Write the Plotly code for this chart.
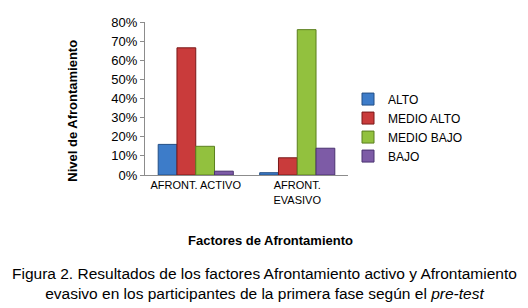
import plotly.graph_objects as go

categories = ["AFRONT. ACTIVO", "AFRONT.<br>EVASIVO"]
series_names = ["ALTO", "MEDIO ALTO", "MEDIO BAJO", "BAJO"]
alto = [0.16, 0.012]
medio_alto = [0.665, 0.09]
medio_bajo = [0.15, 0.76]
bajo = [0.02, 0.14]
tick_vals = [0, 0.1, 0.2, 0.3, 0.4, 0.5, 0.6, 0.7, 0.8]
tick_text = ["0%", "10%", "20%", "30%", "40%", "50%", "60%", "70%", "80%"]

colors = ["#3D7CC9", "#C93B3B", "#92C13E", "#7D5BA6"]
lines = ["#234F86", "#7A1818", "#5B7F1E", "#4A3270"]
values = [alto, medio_alto, medio_bajo, bajo]

fig = go.Figure()
for name, vals, c, lc in zip(series_names, values, colors, lines):
    fig.add_trace(go.Bar(x=categories, y=vals, name=name,
                         marker=dict(color=c, line=dict(color=lc, width=1))))

font = "Liberation Sans, Arial, sans-serif"
fig.update_layout(
    width=528, height=308,
    margin=dict(l=145, r=180, t=22, b=133),
    paper_bgcolor="white", plot_bgcolor="white",
    barmode="group", bargap=0.26, bargroupgap=0,
    font=dict(family=font, color="#000000"),
    showlegend=True,
    legend=dict(x=1.0, y=0.31, xanchor="left", yanchor="middle",
                font=dict(size=12, family=font), tracegroupgap=0,
                itemwidth=30, bgcolor="rgba(0,0,0,0)"),
    xaxis=dict(showline=True, linecolor="#8C8C8C", linewidth=1,
               tickfont=dict(size=11, family=font), ticks="", showgrid=False),
    yaxis=dict(range=[0, 0.8], tickvals=tick_vals, ticktext=tick_text,
               showline=True, linecolor="#8C8C8C", linewidth=1,
               ticks="outside", ticklen=4, tickcolor="#8C8C8C",
               tickfont=dict(size=13, family=font), showgrid=False, zeroline=False),
)

fig.add_annotation(text="<b>Nivel de Afrontamiento</b>", xref="paper", yref="paper",
                   x=-0.355, y=0.42, textangle=-90, showarrow=False,
                   font=dict(size=13, family=font), xanchor="center", yanchor="middle")
fig.add_annotation(text="<b>Factores de Afrontamiento</b>", xref="paper", yref="paper",
                   x=0.62, y=-0.425, showarrow=False,
                   font=dict(size=13, family=font), xanchor="center", yanchor="middle")
fig.add_annotation(text="Figura 2. Resultados de los factores Afrontamiento activo y Afrontamiento<br>evasivo en los participantes de la primera fase según el <i>pre-test</i>",
                   xref="paper", yref="paper", x=0.5, y=0, xshift=(528/2 - 145 - 203/2),
                   yshift=-88, showarrow=False, align="center",
                   font=dict(size=15.5, family=font), xanchor="center", yanchor="top")

fig.write_html("out.html", post_script="document.body.style.margin='0';",
               config={"displayModeBar": False})
